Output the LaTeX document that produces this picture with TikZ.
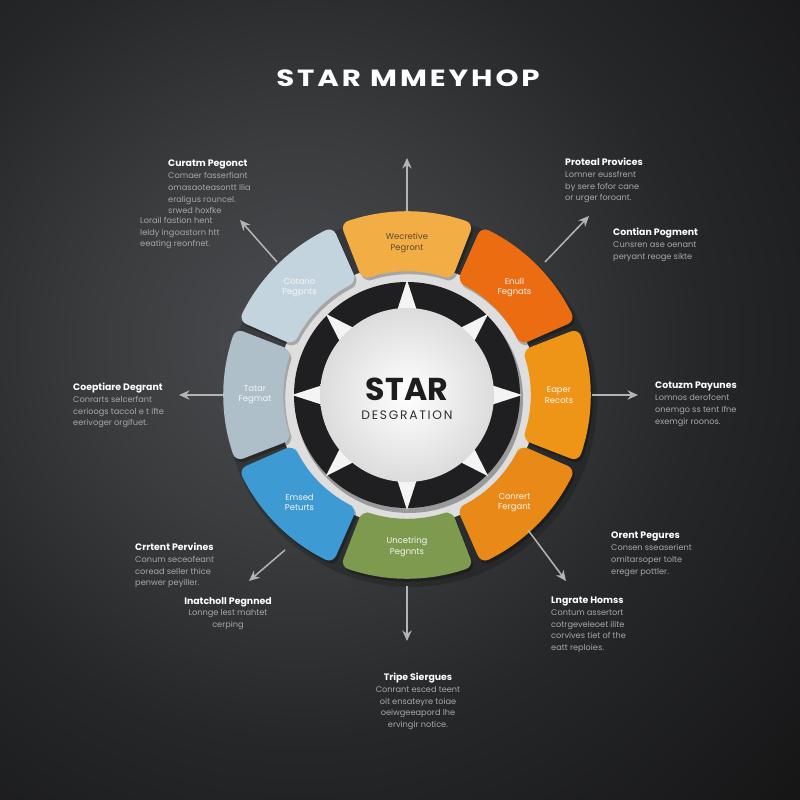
\documentclass[tikz,border=0pt]{standalone}
\usepackage{fontspec}
\setmainfont{Poppins}
\newfontfamily\ttlfont[LetterSpace=10]{Poppins}
\newfontfamily\subfont[LetterSpace=14]{Poppins}
\usetikzlibrary{arrows.meta}
\definecolor{bgA}{HTML}{4A4C50}
\definecolor{bgB}{HTML}{3A3C3E}
\definecolor{bgC}{HTML}{262729}
\definecolor{bgD}{HTML}{141415}
\definecolor{bgE}{HTML}{0B0B0C}
\definecolor{segN}{HTML}{F2AE45}
\definecolor{segNE}{HTML}{EC6C12}
\definecolor{segE}{HTML}{EE9416}
\definecolor{segSE}{HTML}{E98A18}
\definecolor{segS}{HTML}{7E9A4E}
\definecolor{segSW}{HTML}{3D9AD2}
\definecolor{segW}{HTML}{AEBFCA}
\definecolor{segNW}{HTML}{C3D4DE}
\definecolor{txtDark}{HTML}{5A4A2E}
\definecolor{txtLight}{HTML}{F6F6F6}
\definecolor{ringdark}{HTML}{1F1F21}
\definecolor{arrgray}{HTML}{B4B4B4}
\definecolor{bodygray}{HTML}{A8A8A8}
\definecolor{lightdisk}{HTML}{DEDEDE}
\definecolor{tri}{HTML}{F4F4F4}
\definecolor{whiteedge}{HTML}{DCDCDC}
\definecolor{startxt}{HTML}{1E1E1E}
\definecolor{desgtxt}{HTML}{2E2E2E}
\pgfdeclareradialshading{bgshade}{\pgfpoint{0bp}{0bp}}{color(0bp)=(bgA); color(10bp)=(bgB); color(20bp)=(bgC); color(35bp)=(bgD); color(50bp)=(bgE)}
\begin{document}
\begin{tikzpicture}[x=0.03cm,y=0.03cm,
  arr/.style={draw=arrgray, line width=1.3pt, -{Stealth[length=9pt,width=8pt]}},
  segtxt/.style={font=\fontsize{7.2}{8.8}\selectfont, align=center, inner sep=0pt},
  note/.style={font=\fontsize{7}{10}\selectfont, text=bodygray, inner sep=0pt}]
\useasboundingbox (0,0) rectangle (800,800);
\begin{scope}
  \clip (0,0) rectangle (800,800);
  \fill[bgE] (0,0) rectangle (800,800);
  \shade[shading=bgshade] (-200,-40) rectangle (800,960);
\end{scope}

% title
\node[font=\ttlfont\fontsize{20}{24}\selectfont\bfseries, text=white, xscale=1.25] (title) at (408,722) {STAR MMEYHOP};

% wheel
\begin{scope}[shift={(407,405)}]
  \fill[black, opacity=0.18] (4,-6) circle (186);
  \fill[lightdisk] (0,0) circle (131);
  \foreach \ang/\col/\lbl/\tcol [count=\i] in {
      90/segN/{Wecretive\\Pegront}/txtDark,
      45/segNE/{Enull\\Fegnats}/txtLight,
      0/segE/{Eaper\\Recots}/txtLight,
      -45/segSE/{Conrert\\Fergant}/txtLight,
      -90/segS/{Uncetring\\Pegnnts}/txtLight,
      -135/segSW/{Emsed\\Peturts}/txtLight,
      180/segW/{Tatar\\Fegmat}/txtLight,
      135/segNW/{Cotano\\Pegpnts}/txtLight} {
    \fill[black, opacity=0.25, rounded corners=7pt, shift={(2,-3)}]
      plot[samples=9, domain=\ang-21.2:\ang+21.2] (\x:184) --
      plot[samples=9, domain=\ang+21.2:\ang-21.2] (\x:124) -- cycle;
    \fill[\col, rounded corners=7pt]
      plot[samples=9, domain=\ang-21.2:\ang+21.2] (\x:184) --
      plot[samples=9, domain=\ang+21.2:\ang-21.2] (\x:124) -- cycle;
    \node[segtxt, text=\tcol] (seg\i) at (\ang:152) {\lbl};
  }
  \fill[black, opacity=0.3] (2,-4) circle (114);
  \fill[ringdark] (0,0) circle (113);
  \foreach \ang in {0,45,...,315} {
    \fill[tri] (\ang:115) -- (\ang+7:84) -- (\ang-7:84) -- cycle;
  }
  \shade[inner color=white, outer color=whiteedge] (0,0) circle (87);
\end{scope}
\node[font=\fontsize{27}{30}\selectfont\bfseries, text=startxt] (star) at (407,411) {STAR};
\node[font=\subfont\fontsize{10.5}{12}\selectfont, text=desgtxt] (desg) at (407,385) {DESGRATION};

% arrows
\coordinate (aN0) at (407,588);  \coordinate (aN1) at (407,642);
\coordinate (aNE0) at (545,538); \coordinate (aNE1) at (589,584);
\coordinate (aE0) at (592,405);  \coordinate (aE1) at (638,405);
\coordinate (aSE0) at (528,270); \coordinate (aSE1) at (566,219);
\coordinate (aS0) at (407,214);  \coordinate (aS1) at (407,159);
\coordinate (aSW0) at (285,250); \coordinate (aSW1) at (249,219);
\coordinate (aW0) at (223,405);  \coordinate (aW1) at (179,405);
\coordinate (aNW0) at (277,538); \coordinate (aNW1) at (240,580);
\foreach \d in {N,NE,E,SE,S,SW,W,NW} { \draw[arr] (a\d0) -- (a\d1); }

% notes
\node[anchor=north west, align=left, note] (n1) at (168,640)
  {{\fontsize{8}{10}\selectfont\bfseries\color{white}Curatm Pegonct}\\Comaer fasserfiant\\omasaoteasontt Ilia\\eraligus rouncel.\\srwed hoxfke};
\node[anchor=north west, align=left, note] (n1b) at (140,583)
  {Lorail fastion hent\\leldy ingoastorn htt\\eeating reonfnet.};
\node[anchor=north west, align=left, note] (n2) at (565,642)
  {{\fontsize{8}{10}\selectfont\bfseries\color{white}Proteal Provices}\\Lomner eussfrent\\by sere fofor cane\\or urger foroant.};
\node[anchor=north west, align=left, note] (n2b) at (613,572)
  {{\fontsize{8}{10}\selectfont\bfseries\color{white}Contian Pogment}\\Cunsren ase oenant\\peryant reoge sikte};
\node[anchor=north west, align=left, note] (n3) at (73,417)
  {{\fontsize{8}{10}\selectfont\bfseries\color{white}Coeptiare Degrant}\\Conrarts selcerfant\\cerioogs taccol e t ifte\\eerivoger orgifuet.};
\node[anchor=north west, align=left, note] (n4) at (655,418)
  {{\fontsize{8}{10}\selectfont\bfseries\color{white}Cotuzm Payunes}\\Lomnos derofcent\\onemgo ss tent Ifne\\exemgir roonos.};
\node[anchor=north west, align=left, note] (n5) at (135,257)
  {{\fontsize{8}{10}\selectfont\bfseries\color{white}Crrtent Pervines}\\Conum seceofeant\\coread seller thice\\penwer peyiller.};
\node[anchor=north, align=center, note] (n5b) at (228,203)
  {{\fontsize{8}{10}\selectfont\bfseries\color{white}Inatcholl Pegnned}\\Lonnge lest mahtet\\cerping};
\node[anchor=north west, align=left, note] (n6) at (611,268)
  {{\fontsize{8}{10}\selectfont\bfseries\color{white}Orent Pegures}\\Consen sseaserient\\omitarsoper tolte\\ereger pottler.};
\node[anchor=north west, align=left, note] (n6b) at (551,203)
  {{\fontsize{8}{10}\selectfont\bfseries\color{white}Lngrate Homss}\\Contum assertort\\cotrgeveleoet ilite\\corvives tiet of the\\eatt reploies.};
\node[anchor=north, align=center, note] (n7) at (418,127)
  {{\fontsize{8}{10}\selectfont\bfseries\color{white}Tripe Siergues}\\Conrant esced teent\\oit ensateyre toiae\\oeiwgeeapord lhe\\ervingir notice.};
\end{tikzpicture}
\end{document}
